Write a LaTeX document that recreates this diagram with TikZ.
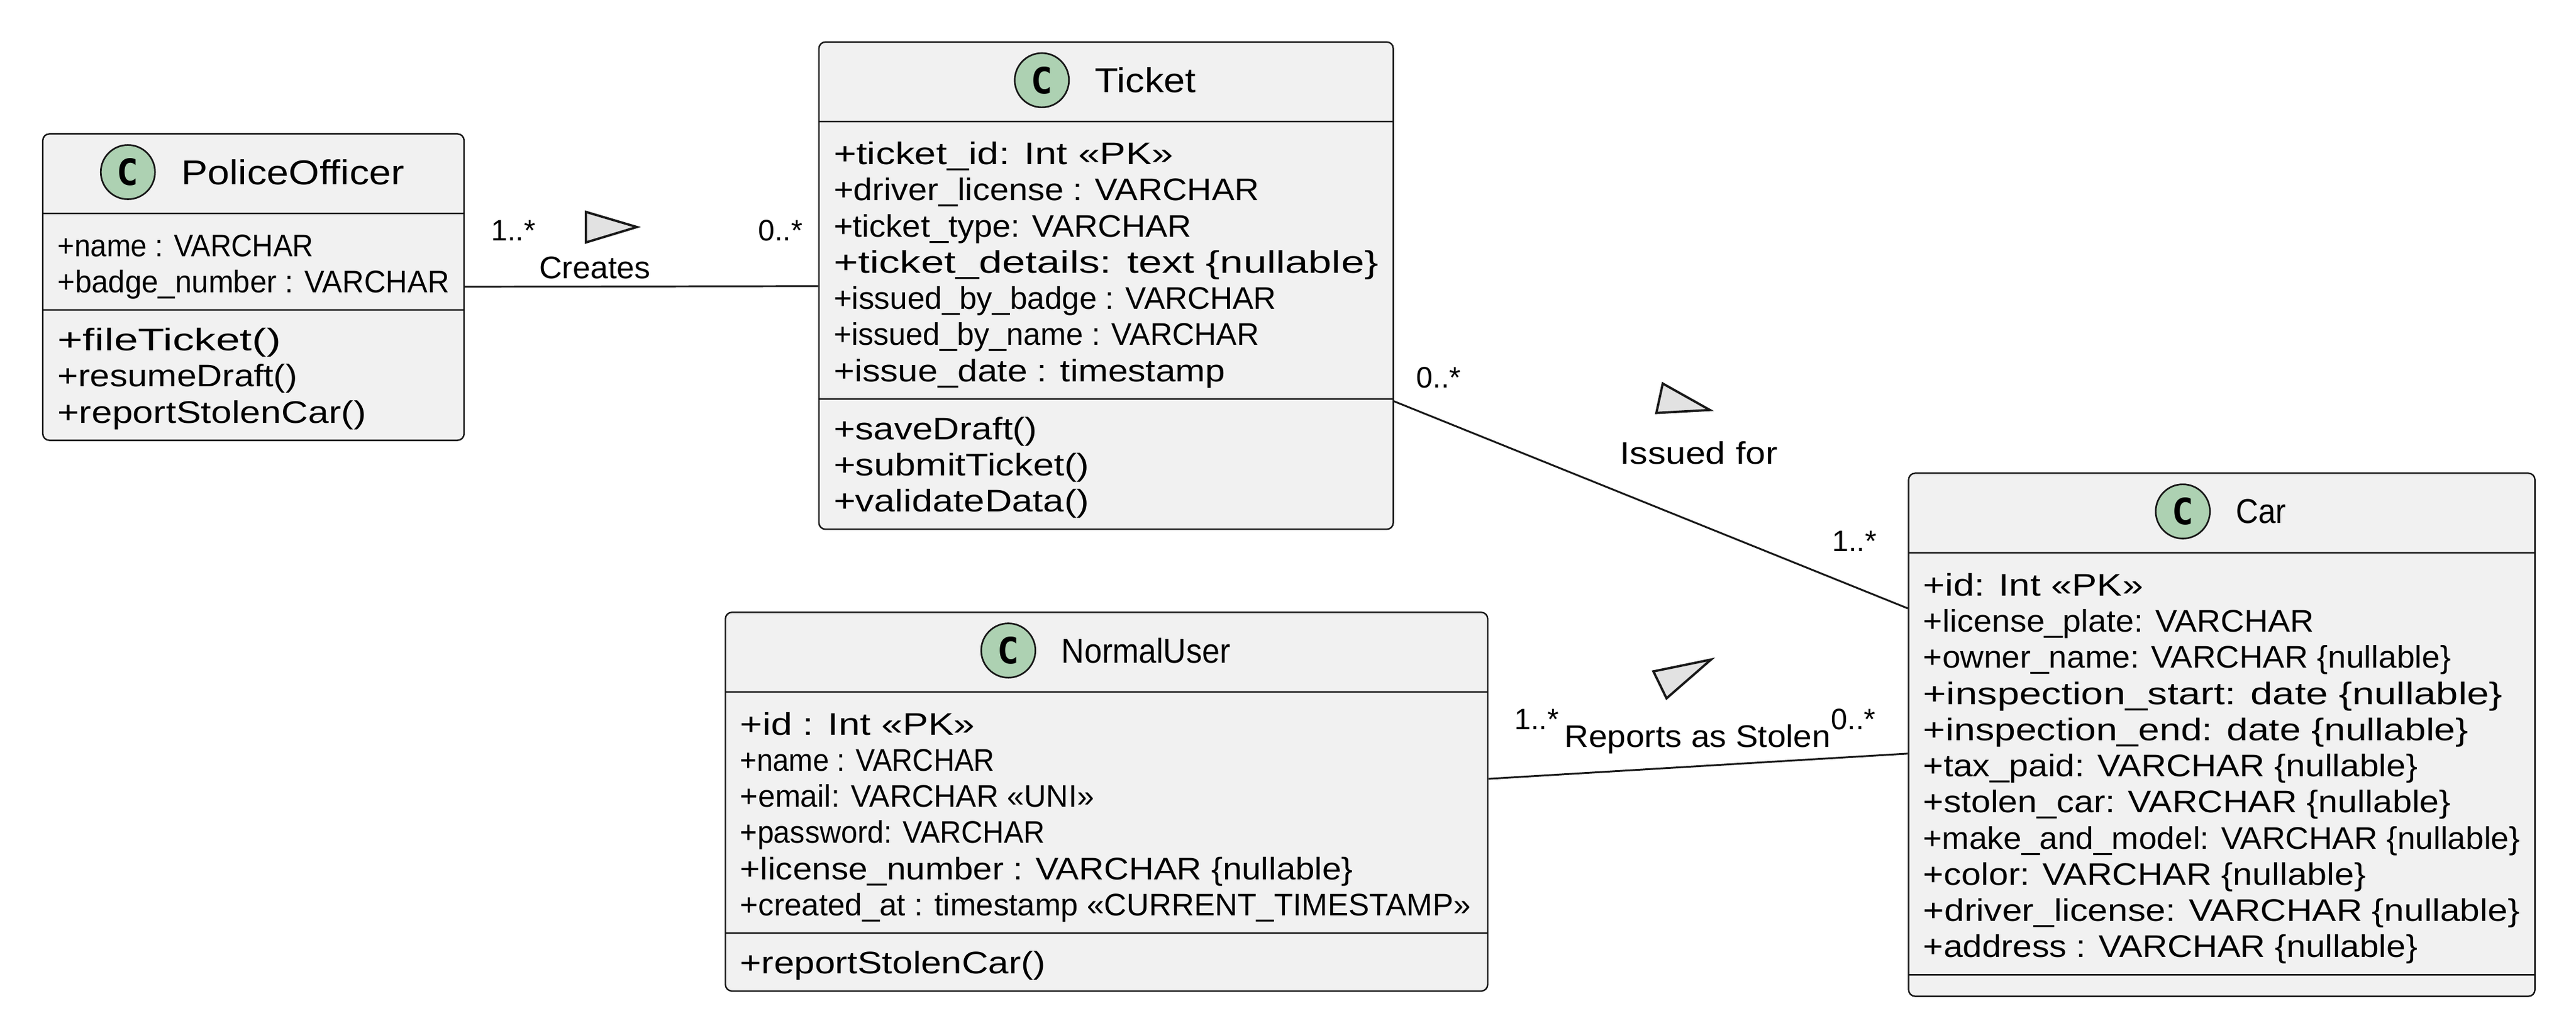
\documentclass[tikz,border=0pt]{standalone}
\usepackage{fontspec}
\setmainfont{Liberation Sans}
\newfontfamily\iconfont{DejaVu Sans Mono}
\usetikzlibrary{shapes.multipart,positioning}
\definecolor{boxfill}{HTML}{F1F1F1}
\definecolor{boxline}{HTML}{181818}
\definecolor{iconfill}{HTML}{ADD1B2}
\definecolor{trifill}{HTML}{E2E2E2}
\newcommand{\fitw}[2]{\resizebox{#1}{\height}{#2}}
\newcommand{\attrs}[1]{\begin{tabular}{@{}l@{}}\rule{0pt}{11.1pt}\ignorespaces#1\end{tabular}}
\newcommand{\methods}[1]{\begin{tabular}{@{}l@{}}\rule{0pt}{10.4pt}\ignorespaces#1\end{tabular}}

\begin{document}
\begin{tikzpicture}[x=0.5pt, y=-0.5pt,
  cls/.style = {draw=boxline, line width=0.45pt, fill=boxfill, rounded corners=2pt,
    rectangle split, rectangle split parts=3, rectangle split part align={center,left,left},
    inner xsep=4.5pt, inner ysep=1.75pt, anchor=north west,
    font=\fontsize{9.5}{11}\selectfont},
  clsname/.style = {inner sep=0pt, font=\fontsize{10.5}{12}\selectfont},
  icon/.style = {draw=boxline, line width=0.5pt, circle, fill=iconfill, minimum size=16.5pt,
    inner sep=0pt, font=\iconfont\bfseries\fontsize{11}{11}\selectfont},
  mult/.style = {inner sep=0pt, font=\fontsize{9}{10}\selectfont},
  lbl/.style = {inner sep=0pt, font=\fontsize{9.5}{11}\selectfont},
  tri/.style = {draw=boxline, line width=0.7pt, fill=trifill},
  link/.style = {draw=boxline, line width=0.55pt}]
\useasboundingbox (0,0) rectangle (1568,629.58);

\node[cls, minimum width=127.9pt] (police) at (25.6,81) {\rule{0pt}{20.25pt}
  \nodepart{two} \attrs{
  \fitw{77.9pt}{+name : VARCHAR}\\
  \fitw{119.2pt}{+badge\_number : VARCHAR}}
  \nodepart{three} \methods{
  \fitw{68pt}{+fileTicket()}\\
  \fitw{73pt}{+resumeDraft()}\\
  \fitw{93.9pt}{+reportStolenCar()}}};
\node[clsname] (policename) at ([xshift=12pt, yshift=-11.85pt]police.north) {\fitw{68pt}{PoliceOfficer}};
\node[icon, left=7.5pt of policename] (policeicon) {C};

\node[cls, minimum width=174.75pt] (ticket) at (498,25.1) {\rule{0pt}{20.25pt}
  \nodepart{two} \attrs{
  \fitw{103.4pt}{+ticket\_id: Int «PK»}\\
  \fitw{129.5pt}{+driver\_license : VARCHAR}\\
  \fitw{108.9pt}{+ticket\_type: VARCHAR}\\
  \fitw{165.8pt}{+ticket\_details: text \{nullable\}}\\
  \fitw{134.7pt}{+issued\_by\_badge : VARCHAR}\\
  \fitw{129.5pt}{+issued\_by\_name : VARCHAR}\\
  \fitw{119.2pt}{+issue\_date : timestamp}}
  \nodepart{three} \methods{
  \fitw{62pt}{+saveDraft()}\\
  \fitw{77.8pt}{+submitTicket()}\\
  \fitw{77.8pt}{+validateData()}}};
\node[clsname] (ticketname) at ([xshift=12pt, yshift=-11.85pt]ticket.north) {\fitw{30.7pt}{Ticket}};
\node[icon, left=7.5pt of ticketname] (ticketicon) {C};

\node[cls, minimum width=232pt] (user) at (441.1,372) {\rule{0pt}{20.25pt}
  \nodepart{two} \attrs{
  \fitw{71.5pt}{+id : Int «PK»}\\
  \fitw{77.4pt}{+name : VARCHAR}\\
  \fitw{107.7pt}{+email: VARCHAR «UNI»}\\
  \fitw{92.8pt}{+password: VARCHAR}\\
  \fitw{186.6pt}{+license\_number : VARCHAR \{nullable\}}\\
  \fitw{222.4pt}{+created\_at : timestamp «CURRENT\_TIMESTAMP»}}
  \nodepart{three} \methods{
  \fitw{93pt}{+reportStolenCar()}}};
\node[clsname] (username) at ([xshift=12pt, yshift=-11.85pt]user.north) {\fitw{51.4pt}{NormalUser}};
\node[icon, left=7.5pt of username] (usericon) {C};

\node[cls, minimum width=190.6pt] (car) at (1161.3,287.4) {\rule{0pt}{20.25pt}
  \nodepart{two} \attrs{
  \fitw{66.9pt}{+id: Int «PK»}\\
  \fitw{118.8pt}{+license\_plate: VARCHAR}\\
  \fitw{160.6pt}{+owner\_name: VARCHAR \{nullable\}}\\
  \fitw{176.3pt}{+inspection\_start: date \{nullable\}}\\
  \fitw{165.9pt}{+inspection\_end: date \{nullable\}}\\
  \fitw{150.4pt}{+tax\_paid: VARCHAR \{nullable\}}\\
  \fitw{160.6pt}{+stolen\_car: VARCHAR \{nullable\}}\\
  \fitw{181.6pt}{+make\_and\_model: VARCHAR \{nullable\}}\\
  \fitw{134.7pt}{+color: VARCHAR \{nullable\}}\\
  \fitw{181.6pt}{+driver\_license: VARCHAR \{nullable\}}\\
  \fitw{150.4pt}{+address : VARCHAR \{nullable\}}}
  \nodepart{three} \rule{0pt}{2.6pt}};
\node[clsname] (carname) at ([xshift=12pt, yshift=-11.85pt]car.north) {\fitw{15.3pt}{Car}};
\node[icon, left=7.5pt of carname] (caricon) {C};

\draw[link] (police) -- (ticket);
\node[mult] (createsfrom) at (312.5,140.4) {1..*};
\node[mult] (createsto) at (475.1,140.4) {0..*};
\node[lbl] (createslabel) at (362.1,163) {\fitw{33.8pt}{Creates}};
\draw[tri] (356.6,128.9) -- (387.7,138.1) -- (356.6,147.5) -- cycle;

\draw[link] (ticket) -- (car);
\node[mult] (issuedfrom) at (875.7,229.6) {0..*};
\node[mult] (issuedto) at (1128.8,329.2) {1..*};
\node[lbl] (issuedlabel) at (1034,275.6) {\fitw{48pt}{Issued for}};
\draw[tri] (1012.1,233.3) -- (1040.8,249.4) -- (1008.2,251.2) -- cycle;

\draw[link] (user) -- (car);
\node[mult] (reportsfrom) at (935.4,437.7) {1..*};
\node[mult] (reportsto) at (1128.1,437.7) {0..*};
\node[lbl] (reportslabel) at (1033.4,449.8) {\fitw{81pt}{Reports as Stolen}};
\draw[tri] (1006.4,408.4) -- (1041.5,401.2) -- (1014.4,424.8) -- cycle;
\end{tikzpicture}
\end{document}
